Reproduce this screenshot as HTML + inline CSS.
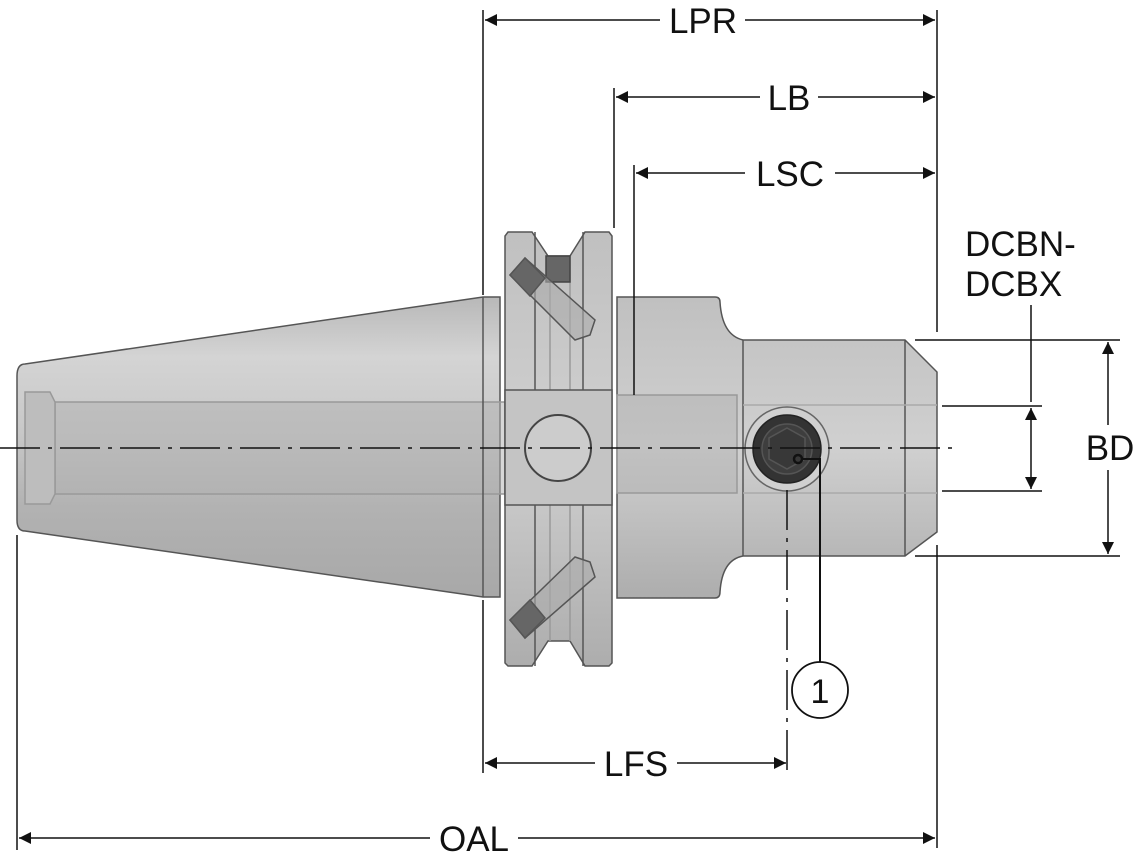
<!DOCTYPE html>
<html><head><meta charset="utf-8"><style>
html,body{margin:0;padding:0;background:#fff;width:1138px;height:866px;overflow:hidden}
text{font-family:"Liberation Sans",sans-serif;font-size:35px;fill:#111}
</style></head><body>
<svg width="1138" height="866" viewBox="0 0 1138 866" xmlns="http://www.w3.org/2000/svg">
<defs>
<linearGradient id="g" x1="0" y1="0" x2="0" y2="1">
<stop offset="0" stop-color="#b8b8b8"/><stop offset="0.2" stop-color="#d4d4d4"/><stop offset="0.45" stop-color="#c8c8c8"/><stop offset="0.7" stop-color="#b2b2b2"/><stop offset="1" stop-color="#a8a8a8"/>
</linearGradient>
<linearGradient id="g2" x1="0" y1="0" x2="0" y2="1">
<stop offset="0" stop-color="#c0c0c0"/><stop offset="0.5" stop-color="#d0d0d0"/><stop offset="1" stop-color="#adadad"/>
</linearGradient>
<marker id="a" viewBox="0 0 10 10" refX="10" refY="5" markerWidth="16" markerHeight="12" markerUnits="userSpaceOnUse" orient="auto-start-reverse"><path d="M0,0 L10,5 L0,10z" fill="#111"/></marker>
</defs>
<g stroke="#555" stroke-width="1.5">
<path d="M25,364 L483,297 L500,297 L500,597 L483,597 L25,531 Q17,531 17,520 L17,376 Q17,364 25,364z" fill="url(#g)"/>
<rect x="55" y="402" width="450" height="92" fill="#b0b0b0" fill-opacity="0.5" stroke="#999"/>
<path d="M25,392 L50,392 L55,402 L55,494 L50,504 L25,504z" fill="#bdbdbd" stroke="#999"/>
<line x1="483" y1="297" x2="483" y2="597"/>
<path d="M617,297 L715,297 Q720,297 720,302 Q722,335 743,340 L905,340 L937,372 L937,532 L905,556 L743,556 Q722,560 720,592 Q720,598 715,598 L617,598z" fill="url(#g2)"/>
<rect x="617" y="395" width="120" height="98" fill="#b0b0b0" fill-opacity="0.45" stroke="#999"/>
<line x1="743" y1="340" x2="743" y2="556"/>
<line x1="905" y1="340" x2="905" y2="556"/>
<line x1="743" y1="405" x2="937" y2="405" stroke="#aaa"/>
<line x1="743" y1="493" x2="937" y2="493" stroke="#aaa"/>
<path d="M508,232 L532,232 L548,256 L570,256 L585,232 L609,232 L612,236 L612,663 L609,666 L585,666 L570,641 L548,641 L532,666 L508,666 L505,663 L505,236z" fill="url(#g2)"/>
<line x1="535" y1="232" x2="535" y2="390"/><line x1="583" y1="232" x2="583" y2="390"/>
<line x1="535" y1="505" x2="535" y2="666"/><line x1="583" y1="505" x2="583" y2="666"/>
<line x1="550" y1="256" x2="550" y2="390" stroke="#999"/><line x1="570" y1="256" x2="570" y2="390" stroke="#999"/>
<line x1="550" y1="505" x2="550" y2="641" stroke="#999"/><line x1="570" y1="505" x2="570" y2="641" stroke="#999"/>
<rect x="546" y="256" width="24" height="26" fill="#666" stroke="#444"/>
<path d="M510,275 L525,258 L595,320 L590,335 L575,340z" fill="#aaa" fill-opacity="0.6"/>
<path d="M510,275 L525,258 L545,278 L530,296z" fill="#666"/>
<path d="M510,620 L525,638 L595,577 L590,562 L575,557z" fill="#aaa" fill-opacity="0.6"/>
<path d="M510,620 L525,638 L545,618 L530,600z" fill="#666"/>
<rect x="505" y="390" width="107" height="115" fill="#c4c4c4" stroke="#555"/>
<circle cx="558" cy="448" r="33" fill="#cccccc" stroke="#444" stroke-width="2"/>
<circle cx="787" cy="449" r="42" fill="#d0d0d0" stroke="#666"/>
<circle cx="787" cy="449" r="34" fill="#333" stroke="#222"/>
<circle cx="787" cy="449" r="25" fill="#3e3e3e" stroke="#555"/>
<path d="M787,428 L805,438 L805,459 L787,469 L769,459 L769,438z" fill="#383838" stroke="#555"/>
</g>
<g stroke="#111" stroke-width="1.5" fill="none">
<line x1="0" y1="448" x2="960" y2="448" stroke-dasharray="40,8,4,8"/>
<line x1="787" y1="490" x2="787" y2="770" stroke-dasharray="40,8,4,8"/>
<line x1="937" y1="10" x2="937" y2="332"/><line x1="937" y1="545" x2="937" y2="848"/>
<line x1="483" y1="10" x2="483" y2="295"/><line x1="483" y1="600" x2="483" y2="773"/>
<line x1="614" y1="88" x2="614" y2="228"/><line x1="634" y1="165" x2="634" y2="395"/>
<line x1="17" y1="535" x2="17" y2="850"/>
<line x1="915" y1="340" x2="1120" y2="340"/><line x1="915" y1="556" x2="1120" y2="556"/>
<line x1="942" y1="406" x2="1042" y2="406"/><line x1="942" y1="491" x2="1042" y2="491"/>
<line x1="1031" y1="305" x2="1031" y2="402"/>
<line x1="485" y1="20" x2="660" y2="20" marker-start="url(#a)"/><line x1="745" y1="20" x2="935" y2="20" marker-end="url(#a)"/>
<line x1="616" y1="97" x2="760" y2="97" marker-start="url(#a)"/><line x1="818" y1="97" x2="935" y2="97" marker-end="url(#a)"/>
<line x1="636" y1="173" x2="745" y2="173" marker-start="url(#a)"/><line x1="835" y1="173" x2="935" y2="173" marker-end="url(#a)"/>
<line x1="485" y1="763" x2="595" y2="763" marker-start="url(#a)"/><line x1="677" y1="763" x2="786" y2="763" marker-end="url(#a)"/>
<line x1="19" y1="838" x2="430" y2="838" marker-start="url(#a)"/><line x1="518" y1="838" x2="935" y2="838" marker-end="url(#a)"/>
<line x1="1108" y1="342" x2="1108" y2="425" marker-start="url(#a)"/><line x1="1108" y1="470" x2="1108" y2="554" marker-end="url(#a)"/>
<line x1="1031" y1="408" x2="1031" y2="489" marker-start="url(#a)" marker-end="url(#a)"/>
<circle cx="798" cy="459" r="4" stroke-width="2.5"/>
<polyline points="802,459 820,459 820,662" stroke-width="2"/>
<circle cx="820" cy="690" r="28" stroke-width="1.8"/>
</g>
<text x="703" y="33" text-anchor="middle">LPR</text>
<text x="789" y="110" text-anchor="middle">LB</text>
<text x="790" y="186" text-anchor="middle">LSC</text>
<text x="636" y="776" text-anchor="middle">LFS</text>
<text x="474" y="851" text-anchor="middle">OAL</text>
<text x="1110" y="460" text-anchor="middle">BD</text>
<text x="965" y="256">DCBN-</text>
<text x="965" y="296">DCBX</text>
<text x="820" y="703" text-anchor="middle" style="font-size:34px">1</text>
</svg>
</body></html>
